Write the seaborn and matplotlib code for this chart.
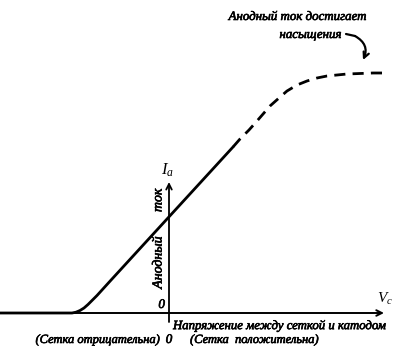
import matplotlib
matplotlib.use("Agg")
import matplotlib.pyplot as plt
import matplotlib.patheffects as pe
import seaborn as sns
import pandas as pd

# Grid voltage (relative units) and anode current (relative units)
vc_solid = [-169, -97, -93, -89, -85, -81, -77, -72, -59, 64]
ia_solid = [0, 0, 0.8, 2.5, 5, 8.5, 12.5, 17.5, 31.8, 166]
vc_dash = [64, 71, 80, 88, 101, 110, 118, 128, 138, 148, 158, 178, 204, 218]
ia_dash = [166, 174, 183, 192, 207, 215, 222, 228, 232, 235, 237, 239, 240, 240]

title_text = ["Анодный ток достигает", "насыщения"]
y_label = "Анодный       ток"
x_label = "Напряжение между сеткой и катодом"
neg_label = "(Сетка отрицательна)"
pos_label = "(Сетка  положительна)"

sns.set_theme(style="white")
plt.rcParams['font.family'] = ['Liberation Serif', 'DejaVu Serif']
plt.rcParams['mathtext.fontset'] = 'custom'
plt.rcParams['mathtext.it'] = 'Liberation Serif:italic'
plt.rcParams['mathtext.rm'] = 'Liberation Serif'

fig = plt.figure(figsize=(4, 3.5), dpi=100)
ax = fig.add_axes([0, 0, 1, 1])
ax.set_xlim(-169, 231)
ax.set_ylim(-37, 313)
ax.axis('off')

df_s = pd.DataFrame({"vc": vc_solid, "ia": ia_solid})
df_d = pd.DataFrame({"vc": vc_dash, "ia": ia_dash})
sns.lineplot(data=df_s, x="vc", y="ia", sort=False, color="black", lw=2.0, ax=ax)
sns.lineplot(data=df_d, x="vc", y="ia", sort=False, color="black", lw=2.0,
             linestyle=(0, (4, 2.6)), ax=ax)

# axes with arrows
ax.annotate('', xy=(215, 0), xytext=(-169, 0),
            arrowprops=dict(arrowstyle='->', lw=1.4, color='black',
                            mutation_scale=10, shrinkA=0, shrinkB=0))
ax.annotate('', xy=(0, 131), xytext=(0, -9),
            arrowprops=dict(arrowstyle='->', lw=1.3, color='black',
                            mutation_scale=10, shrinkA=0, shrinkB=0))

bold = [pe.withStroke(linewidth=0.45, foreground='black')]
tk = dict(style='italic', color='black', path_effects=bold)
ax.text(-8, 143, r'$I_a$', fontsize=12, ha='left', va='center', color='black')
ax.text(-11, 74.5, y_label, fontsize=10, rotation=90, ha='center', va='center', **tk)
ax.text(-4, 8, '0', fontsize=9.5, ha='right', va='center', **tk)
ax.text(208, 14, r'$V_c$', fontsize=11, ha='left', va='center', color='black')
ax.text(4, -13, x_label, fontsize=9.2, ha='left', va='center', **tk)
ax.text(-9, -27, neg_label, fontsize=9, ha='right', va='center', **tk)
ax.text(0, -27, '0', fontsize=9.5, ha='center', va='center', **tk)
ax.text(21, -27, pos_label, fontsize=9, ha='left', va='center', **tk)
ax.text(128.5, 296, title_text[0], fontsize=9.3, ha='center', va='center', **tk)
ax.text(141.5, 278, title_text[1], fontsize=9.3, ha='center', va='center', **tk)

# little pointer arrow
ax.plot([177, 186], [279, 277], color='black', lw=1.6, solid_capstyle='round')
ax.annotate('', xy=(194, 253), xytext=(186, 277),
            arrowprops=dict(arrowstyle='->', lw=1.6, color='black',
                            connectionstyle='arc3,rad=-0.45',
                            mutation_scale=10, shrinkA=0, shrinkB=0))

fig.savefig("out.png", dpi=100, facecolor='white')
